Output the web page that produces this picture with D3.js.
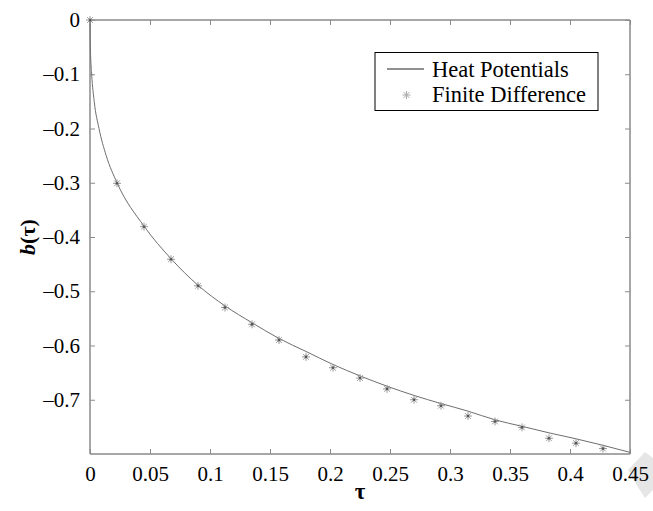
<!DOCTYPE html>
<html><head><meta charset="utf-8">
<script src="https://cdn.jsdelivr.net/npm/d3@7"></script>
<style>body{margin:0;background:#fff}svg{display:block}</style>
</head><body>
<svg id="c" width="653" height="511"></svg>
<script>
// Heat Potentials (solid line)
const hpTau = [0, 0.0003, 0.0014, 0.0035, 0.0075, 0.0135, 0.0225, 0.045, 0.0675, 0.09, 0.1125, 0.135, 0.1575, 0.18, 0.2025, 0.225, 0.2475, 0.27, 0.2925, 0.315, 0.3375, 0.36, 0.3825, 0.405, 0.4275, 0.45];
const hpB   = [0, -0.05, -0.10, -0.15, -0.20, -0.25, -0.30, -0.38, -0.44, -0.489, -0.527, -0.558, -0.587, -0.611, -0.635, -0.656, -0.675, -0.692, -0.707, -0.721, -0.737, -0.749, -0.761, -0.772, -0.784, -0.797];
// Finite Difference (asterisks)
const fdTau = [0, 0.0225, 0.045, 0.0675, 0.09, 0.1125, 0.135, 0.1575, 0.18, 0.2025, 0.225, 0.2475, 0.27, 0.2925, 0.315, 0.3375, 0.36, 0.3825, 0.405, 0.4275];
const fdB   = [0, -0.301, -0.381, -0.441, -0.490, -0.530, -0.561, -0.590, -0.621, -0.641, -0.660, -0.680, -0.700, -0.711, -0.730, -0.740, -0.751, -0.771, -0.780, -0.790];
const xTicks = [0, 0.05, 0.1, 0.15, 0.2, 0.25, 0.3, 0.35, 0.4, 0.45];
const yTicks = [0, -0.1, -0.2, -0.3, -0.4, -0.5, -0.6, -0.7];
const legendLabels = ["Heat Potentials", "Finite Difference"];

const svg = d3.select("#c");
const L = 90, R = 630, T = 20, B = 454;
const x = d3.scaleLinear().domain([0, 0.45]).range([L, R]);
const y = d3.scaleLinear().domain([-0.8, 0]).range([B, T]);
const font = "'Liberation Serif','Times New Roman',serif";
const axisCol = "#8a8a8a";

// watermark blob
svg.append("path").attr("d","M645,452 L653,458 L653,490 L645,498 L636,484 L628,470 Z").attr("fill","#e6e6e6");

// axes
const gx = svg.append("g").attr("transform",`translate(0,${B})`)
  .call(d3.axisBottom(x).tickValues(xTicks).tickSize(-5).tickPadding(12).tickFormat(d=>String(d)));
const gxt = svg.append("g").attr("transform",`translate(0,${T})`)
  .call(d3.axisTop(x).tickValues(xTicks).tickSize(-5).tickFormat(""));
const gy = svg.append("g").attr("transform",`translate(${L},0)`)
  .call(d3.axisLeft(y).tickValues(yTicks).tickSize(-5).tickPadding(10).tickFormat(d=> d===0 ? "0" : "\u2013" + String(Math.abs(d))));
const gyr = svg.append("g").attr("transform",`translate(${R},0)`)
  .call(d3.axisRight(y).tickValues(yTicks).tickSize(-5).tickFormat(""));
[gx,gxt,gy,gyr].forEach(g=>{
  g.attr("font-size",null).attr("font-family",null);
  g.selectAll("path.domain").attr("stroke",axisCol).attr("stroke-width",1.5);
  g.selectAll(".tick line").attr("stroke",axisCol);
  g.selectAll("text").attr("fill","#000").style("font-family",font).style("font-size","21px");
});
gx.selectAll("path.domain").attr("d",`M${L},0H${R}`);
gxt.selectAll("path.domain").attr("d",`M${L},0H${R}`);
gy.selectAll("path.domain").attr("d",`M0,${T}V${B}`);
gyr.selectAll("path.domain").attr("d",`M0,${T}V${B}`);

// line
const line = d3.line().x((d,i)=>x(hpTau[i])).y((d,i)=>y(hpB[i])).curve(d3.curveMonotoneX);
svg.append("path").datum(hpB).attr("d",line).attr("fill","none").attr("stroke","#6e6e6e").attr("stroke-width",1);

// asterisk marker
function star(g, cx, cy, r, col){
  const s = g.append("g").attr("transform",`translate(${cx},${cy})`);
  const a = r*0.72;
  s.append("path").attr("d",`M${-r},0H${r}M0,${-r}V${r}M${-a},${-a}L${a},${a}M${-a},${a}L${a},${-a}`)
   .attr("stroke",col).attr("stroke-width",1).attr("fill","none");
  s.append("circle").attr("r",1.3).attr("fill","#555");
}
const pg = svg.append("g");
fdB.forEach((v,i)=> star(pg, x(fdTau[i]), y(v), 4, "#9a9a9a"));

// legend
const lg = svg.append("g");
lg.append("rect").attr("x",375).attr("y",52.5).attr("width",223).attr("height",58).attr("fill","#fff").attr("stroke","#000").attr("stroke-width",1);
lg.append("line").attr("x1",387).attr("x2",424).attr("y1",69).attr("y2",69).attr("stroke","#222").attr("stroke-width",1);
const sg = lg.append("g").attr("transform","translate(406.5,95)");
sg.append("path").attr("d","M-4,0H4M0,-4V4M-2.9,-2.9L2.9,2.9M-2.9,2.9L2.9,-2.9").attr("stroke","#aaa").attr("stroke-width",1);
lg.selectAll("text.lt").data(legendLabels).enter().append("text")
  .attr("x",432).attr("y",(d,i)=>76.5+i*25).text(d=>d)
  .style("font-family",font).style("font-size","22.5px").attr("fill","#000");

// axis labels
svg.append("text").attr("x",x(0.225)).attr("y",499).attr("text-anchor","middle")
  .style("font-family",font).style("font-size","23px").style("font-weight","bold").text("\u03c4");
const yl = svg.append("text").attr("transform",`translate(35,${(T+B)/2}) rotate(-90)`).attr("text-anchor","middle")
  .style("font-family",font).style("font-size","22px").style("font-weight","bold");
yl.append("tspan").style("font-style","italic").text("b");
yl.append("tspan").text("(\u03c4)");
</script>
</body></html>
